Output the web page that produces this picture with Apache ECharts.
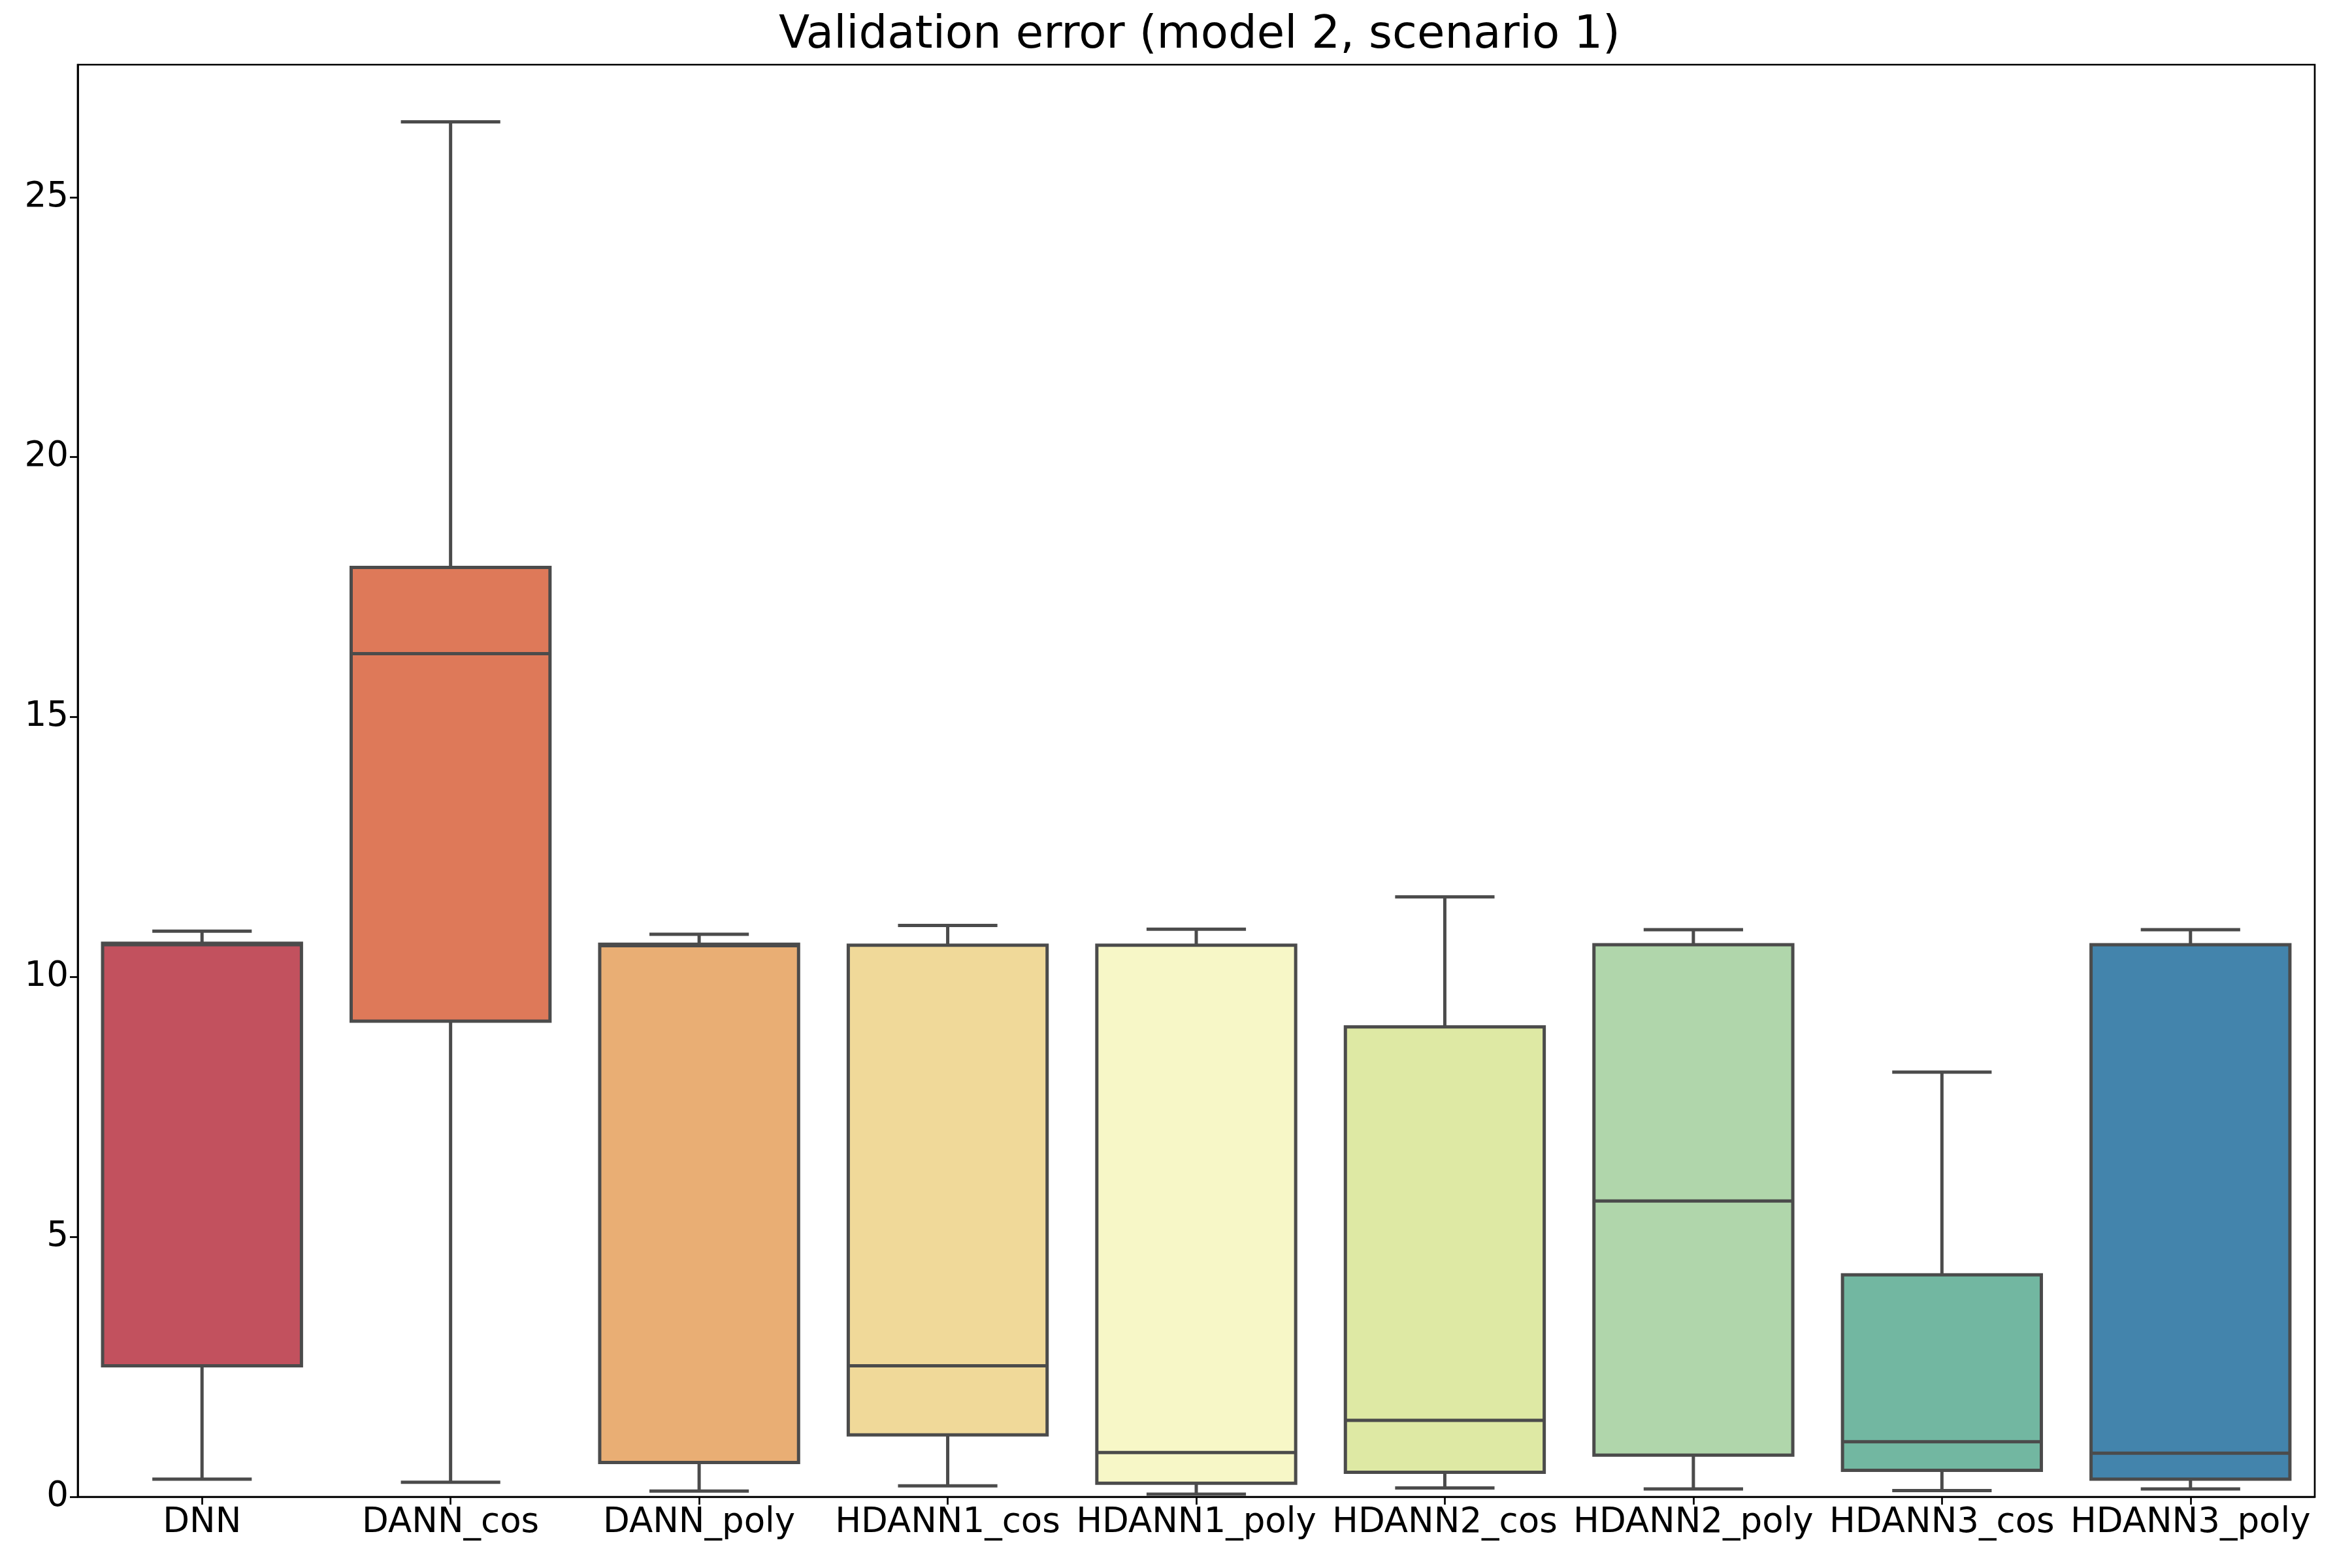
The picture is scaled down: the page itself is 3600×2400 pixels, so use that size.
<!DOCTYPE html>
<html>
<head>
<meta charset="utf-8">
<script src="https://cdn.jsdelivr.net/npm/echarts@6/dist/echarts.min.js"></script>
<style>
  html, body { margin: 0; padding: 0; background: #fff; }
  #main { width: 3600px; height: 2400px; }
</style>
</head>
<body>
<div id="main"></div>
<script>
// box stats
var categories = ['DNN', 'DANN_cos', 'DANN_poly', 'HDANN1_cos', 'HDANN1_poly', 'HDANN2_cos', 'HDANN2_poly', 'HDANN3_cos', 'HDANN3_poly'];
var whiskerLow = [0.34, 0.28, 0.11, 0.21, 0.05, 0.17, 0.15, 0.12, 0.15];
var q1 = [2.52, 9.15, 0.66, 1.19, 0.26, 0.47, 0.80, 0.51, 0.34];
var median = [10.62, 16.22, 10.60, 2.52, 0.85, 1.47, 5.69, 1.06, 0.84];
var q3 = [10.65, 17.88, 10.63, 10.61, 10.61, 9.04, 10.62, 4.27, 10.62];
var whiskerHigh = [10.88, 26.45, 10.82, 10.99, 10.92, 11.54, 10.91, 8.17, 10.91];
var colors = ['#c2515e', '#de7959', '#e9ae74', '#f0d999', '#f7f7c7', '#dee9a4', '#b0d6ab', '#72b7a1', '#4384ac'];
var yTicks = { min: 0, max: 27.55, interval: 5 };

var lineColor = '#4b4b4b';
var lw = 5;

var rows = [];
for (var i = 0; i < categories.length; i++) {
    rows.push([i, whiskerLow[i], q1[i], median[i], q3[i], whiskerHigh[i]]);
}

function renderItem(params, api) {
    var idx = api.value(0);
    var band = api.size([1, 0])[0];
    var cx = api.coord([idx, 0])[0];
    var boxW = band * 0.8;
    var capW = boxW * 0.5;
    var yLow = api.coord([idx, api.value(1)])[1];
    var yQ1 = api.coord([idx, api.value(2)])[1];
    var yMed = api.coord([idx, api.value(3)])[1];
    var yQ3 = api.coord([idx, api.value(4)])[1];
    var yHigh = api.coord([idx, api.value(5)])[1];
    var st = { stroke: lineColor, lineWidth: lw, fill: null };
    return {
        type: 'group',
        children: [
            { type: 'line', shape: { x1: cx, y1: yQ1, x2: cx, y2: yLow }, style: st },
            { type: 'line', shape: { x1: cx, y1: yQ3, x2: cx, y2: yHigh }, style: st },
            { type: 'line', shape: { x1: cx - capW / 2, y1: yLow, x2: cx + capW / 2, y2: yLow }, style: st },
            { type: 'line', shape: { x1: cx - capW / 2, y1: yHigh, x2: cx + capW / 2, y2: yHigh }, style: st },
            { type: 'rect', shape: { x: cx - boxW / 2, y: yQ3, width: boxW, height: yQ1 - yQ3 },
              style: { fill: colors[idx], stroke: lineColor, lineWidth: lw } },
            { type: 'line', shape: { x1: cx - boxW / 2, y1: yMed, x2: cx + boxW / 2, y2: yMed }, style: st }
        ]
    };
}

var myChart = echarts.init(document.getElementById('main'));
var option = {
    animation: false,
    backgroundColor: '#fff',
    title: {
        text: 'Validation error (model 2, scenario 1)',
        left: 1831,
        top: 16,
        textAlign: 'center',
        textStyle: { fontFamily: 'DejaVu Sans', fontSize: 69, fontWeight: 'normal', color: '#000' }
    },
    grid: {
        left: 119, right: 57, top: 99, bottom: 109,
        show: true, borderColor: '#000', borderWidth: 2.7, backgroundColor: 'transparent'
    },
    xAxis: {
        type: 'category',
        data: categories,
        boundaryGap: true,
        axisLine: { show: true, lineStyle: { color: '#000', width: 2.7 } },
        axisTick: { show: true, alignWithLabel: true, length: 12, lineStyle: { color: '#000', width: 2.7 } },
        axisLabel: { margin: 14, fontFamily: 'DejaVu Sans', fontSize: 53, color: '#000', interval: 0 },
        splitLine: { show: false }
    },
    yAxis: {
        type: 'value',
        min: yTicks.min,
        max: yTicks.max,
        interval: yTicks.interval,
        axisLine: { show: true, lineStyle: { color: '#000', width: 2.7 } },
        axisTick: { show: true, length: 12, lineStyle: { color: '#000', width: 2.7 } },
        axisLabel: { margin: 14, fontFamily: 'DejaVu Sans', fontSize: 53, color: '#000', showMaxLabel: false },
        splitLine: { show: false }
    },
    series: [{
        type: 'custom',
        renderItem: renderItem,
        encode: { x: 0, y: [1, 2, 3, 4, 5] },
        data: rows
    }]
};
myChart.setOption(option);
window.onresize = myChart.resize;
</script>
</body>
</html>
